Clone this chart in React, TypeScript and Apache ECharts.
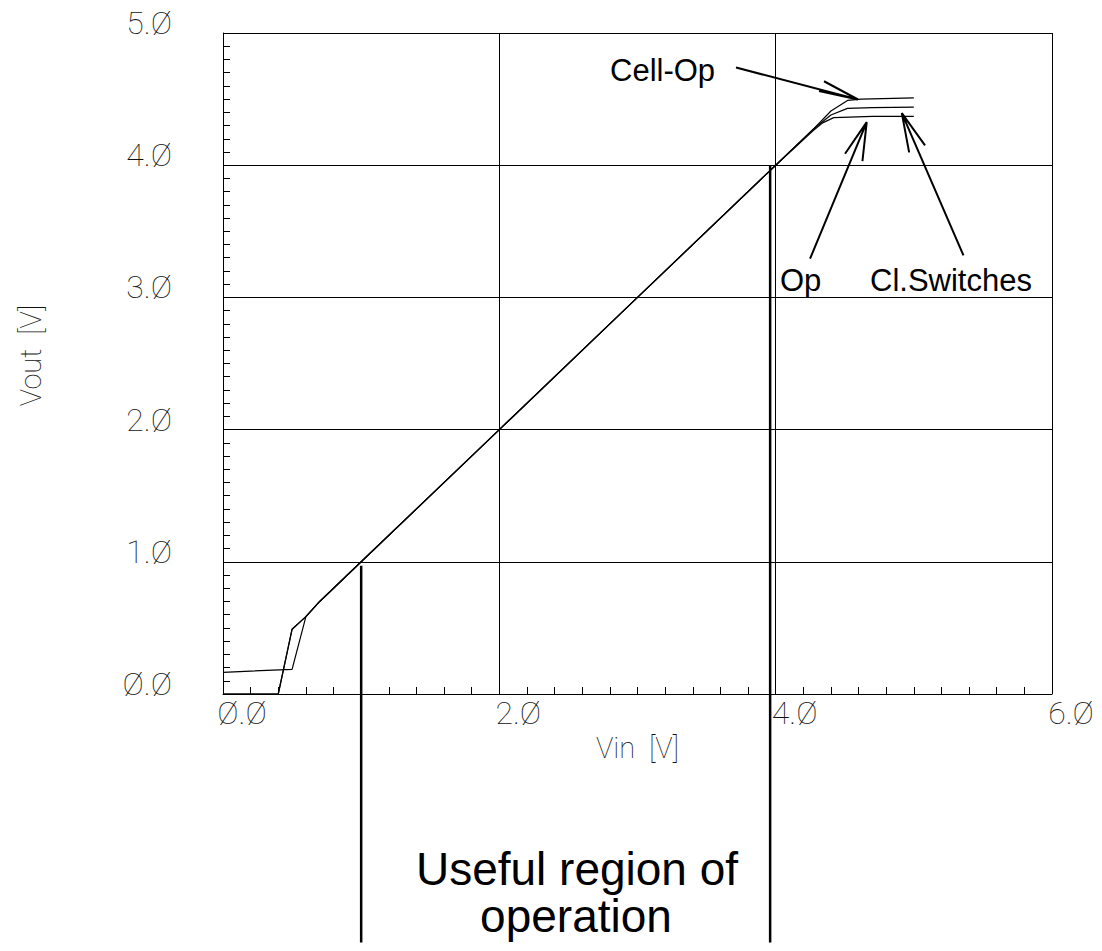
import React, { useEffect, useRef } from "react";
import * as echarts from "echarts";

// Axis tick labels (as drawn, with slashed zeros)
const xTickValues = [0, 2, 4, 6];
const xTickLabels = ["Ø.Ø", "2.Ø", "4.Ø", "6.Ø"];
const yTickValues = [0, 1, 2, 3, 4, 5];
const yTickLabels = ["Ø.Ø", "1.Ø", "2.Ø", "3.Ø", "4.Ø", "5.Ø"];

// Curves: Vin [V] and Vout [V]
const cellOpVin = [0, 0.4, 0.5, 0.6, 0.7, 0.9, 1.0, 2.0, 3.0, 4.0, 4.28, 4.4, 4.52, 4.62, 5.0];
const cellOpVout = [0, 0, 0.49, 0.585, 0.7, 0.9, 1.0, 2.0, 3.0, 4.0, 4.28, 4.41, 4.49, 4.5, 4.51];

const opVin = [0, 0.4, 0.5, 0.6, 0.7, 0.9, 1.0, 2.0, 3.0, 4.0, 4.28, 4.4, 4.52, 4.7, 5.0];
const opVout = [0, 0, 0.49, 0.585, 0.7, 0.9, 1.0, 2.0, 3.0, 4.0, 4.28, 4.38, 4.43, 4.435, 4.44];

const switchesVin = [0, 0.5, 0.6, 0.7, 0.9, 1.0, 2.0, 3.0, 4.0, 4.27, 4.34, 4.42, 4.7, 5.0];
const switchesVout = [0.164, 0.187, 0.585, 0.7, 0.9, 1.0, 2.0, 3.0, 4.0, 4.26, 4.32, 4.36, 4.37, 4.37];

// "Useful region of operation" boundaries (Vin) and their extents (Vout)
const regionVin = [1.0, 3.96];
const regionTopVout = [0.97, 4.0];
const regionBottomVout = -1.88;

// Arrows: [tail, tip, barb1, tip, barb2] in (Vin, Vout)
const cellOpArrowVin = [3.713, 4.596, 4.35, 4.596, 4.314];
const cellOpArrowVout = [4.739, 4.497, 4.635, 4.497, 4.561];
const opArrowVin = [4.249, 4.659, 4.502, 4.659, 4.628];
const opArrowVout = [3.293, 4.326, 4.087, 4.326, 4.031];
const swArrowVin = [5.359, 4.913, 4.966, 4.913, 5.081];
const swArrowVout = [3.318, 4.394, 4.097, 4.394, 4.15];

const zip = (xs: number[], ys: number[]) => xs.map((x, i) => [x, ys[i]]);

const tickFont = "Roboto";
const noteFont = "Liberation Sans, Arial, sans-serif";

export default function App() {
  const ref = useRef<HTMLDivElement>(null);

  useEffect(() => {
    if (!ref.current) return;
    const chart = echarts.init(ref.current, null, { renderer: "svg" });

    const curve = (name: string, data: number[][]) => ({
      name,
      type: "line",
      data,
      symbol: "none",
      silent: true,
      lineStyle: { color: "#000", width: 1.2 },
    });
    const annot = (name: string, data: number[][], width: number) => ({
      name,
      type: "line",
      data,
      symbol: "none",
      silent: true,
      clip: false,
      lineStyle: { color: "#000", width },
    });

    chart.setOption({
      animation: false,
      backgroundColor: "#fff",
      grid: { left: 223, right: 50, top: 33, bottom: 257, containLabel: false },
      xAxis: {
        type: "value",
        min: 0,
        max: 6,
        interval: 2,
        axisLine: { show: true, lineStyle: { color: "#000", width: 1 } },
        axisTick: { show: true, inside: true, length: 7, lineStyle: { color: "#000" } },
        minorTick: { show: true, splitNumber: 10, length: 7, lineStyle: { color: "#000" } },
        splitLine: { show: true, lineStyle: { color: "#000", width: 1 } },
        axisLabel: {
          color: "#111",
          fontFamily: tickFont,
          fontWeight: 100,
          fontSize: 32,
          margin: 3,
          padding: [0, 0, 0, 38],
          formatter: (v: number) => {
            const i = xTickValues.indexOf(v);
            return i >= 0 ? xTickLabels[i] : "";
          },
        },
        name: "Vin  [V]",
        nameLocation: "middle",
        nameGap: 37,
        nameTextStyle: { color: "#111", fontFamily: tickFont, fontWeight: 100, fontSize: 29 },
      },
      yAxis: {
        type: "value",
        min: 0,
        max: 5,
        interval: 1,
        axisLine: { show: true, lineStyle: { color: "#000", width: 1 } },
        axisTick: { show: true, inside: true, length: 7, lineStyle: { color: "#000" } },
        minorTick: { show: true, splitNumber: 10, length: 7, lineStyle: { color: "#000" } },
        splitLine: { show: true, lineStyle: { color: "#000", width: 1 } },
        axisLabel: {
          color: "#111",
          fontFamily: tickFont,
          fontWeight: 100,
          fontSize: 32,
          margin: 51,
          verticalAlign: "bottom",
          lineHeight: 20,
          formatter: (v: number) => {
            const i = yTickValues.indexOf(v);
            return i >= 0 ? yTickLabels[i] : "";
          },
        },
        name: "Vout  [V]",
        nameLocation: "middle",
        nameGap: 178,
        nameRotate: 90,
        nameTextStyle: { color: "#111", fontFamily: tickFont, fontWeight: 100, fontSize: 29, padding: [0, 0, 0, 16] },
      },
      series: [
        curve("Cell-Op", zip(cellOpVin, cellOpVout)),
        curve("Op", zip(opVin, opVout)),
        curve("Cl.Switches", zip(switchesVin, switchesVout)),
        annot("regionLow", [[regionVin[0], regionTopVout[0]], [regionVin[0], regionBottomVout]], 2.5),
        annot("regionHigh", [[regionVin[1], regionTopVout[1]], [regionVin[1], regionBottomVout]], 2.5),
        annot("arrowCellOp", zip(cellOpArrowVin, cellOpArrowVout), 2),
        annot("arrowOp", zip(opArrowVin, opArrowVout), 2),
        annot("arrowSw", zip(swArrowVin, swArrowVout), 2),
      ],
      graphic: [
        { type: "text", left: 610, top: 55, style: { text: "Cell-Op", fontFamily: noteFont, fontSize: 31, fill: "#000" } },
        { type: "text", left: 780, top: 265, style: { text: "Op", fontFamily: noteFont, fontSize: 31, fill: "#000" } },
        { type: "text", left: 870, top: 265, style: { text: "Cl.Switches", fontFamily: noteFont, fontSize: 31, fill: "#000" } },
        {
          type: "text",
          x: 577,
          y: 869,
          style: { text: "Useful region of", fontFamily: noteFont, fontSize: 46, fill: "#000", align: "center", verticalAlign: "middle" },
        },
        {
          type: "text",
          x: 576,
          y: 916,
          style: { text: "operation", fontFamily: noteFont, fontSize: 46, fill: "#000", align: "center", verticalAlign: "middle" },
        },
      ],
    });

    return () => chart.dispose();
  }, []);

  return (
    <div
      ref={ref}
      style={{ position: "fixed", left: 0, top: 0, width: 1102, height: 951, background: "#fff" }}
    />
  );
}
